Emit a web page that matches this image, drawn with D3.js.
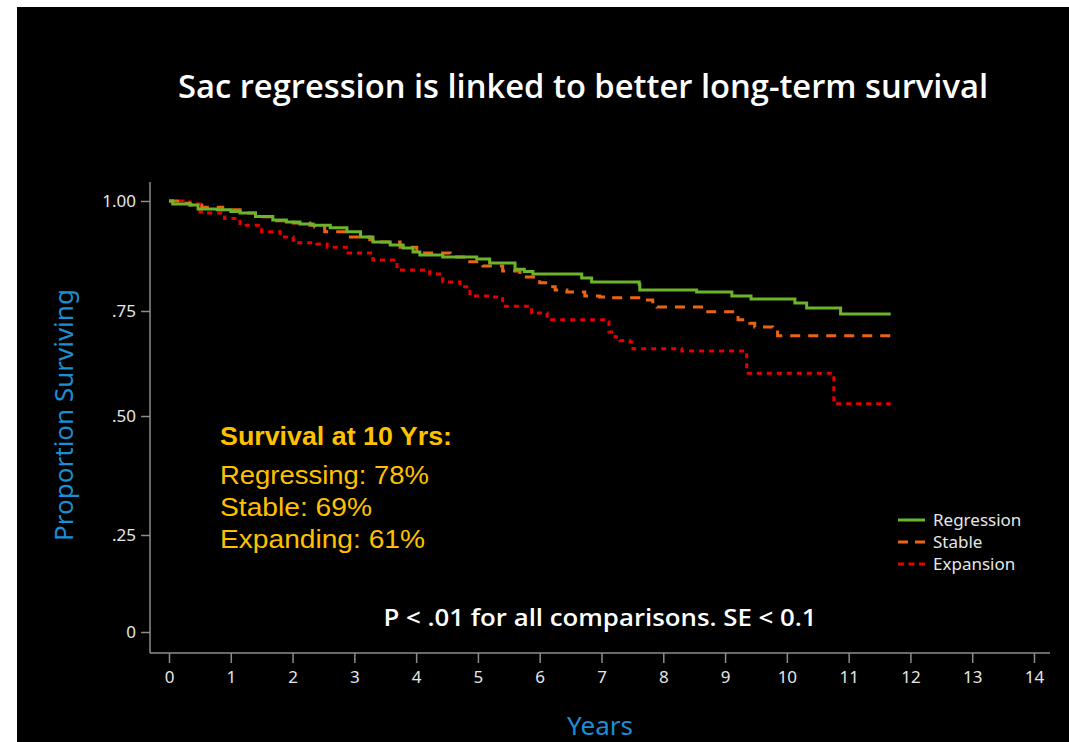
<!DOCTYPE html>
<html>
<head>
<meta charset="utf-8">
<script src="https://cdn.jsdelivr.net/npm/d3@7"></script>
<style>
  body { margin: 0; background: #fff; }
  svg { display: block; }
</style>
</head>
<body>
<div id="chart"></div>
<script>
// Kaplan-Meier steps: [years, proportion surviving]
var regression = [
    [0, 1.000], [0.06, 0.993], [0.34, 0.991], [0.47, 0.982], [0.78, 0.980],
    [1.0, 0.976], [1.15, 0.973], [1.4, 0.965], [1.68, 0.957], [1.9, 0.952],
    [2.12, 0.948], [2.33, 0.945], [2.61, 0.939], [2.88, 0.930], [3.1, 0.918],
    [3.30, 0.907], [3.58, 0.900], [3.79, 0.893], [3.95, 0.884], [4.06, 0.877],
    [4.43, 0.873], [4.98, 0.868], [5.19, 0.859], [5.60, 0.845], [5.75, 0.840],
    [5.89, 0.834], [6.68, 0.825], [6.84, 0.816], [7.61, 0.811], [7.62, 0.798],
    [8.54, 0.793], [9.11, 0.784], [9.42, 0.777], [10.13, 0.768], [10.32, 0.757],
    [10.87, 0.743], [11.68, 0.743]
];
var stable = [
    [0, 1.000], [0.23, 0.995], [0.34, 0.991], [0.53, 0.986], [0.87, 0.980],
    [1.15, 0.973], [1.4, 0.964], [1.68, 0.955], [2.01, 0.950], [2.28, 0.945],
    [2.36, 0.941], [2.52, 0.930], [2.88, 0.918], [3.25, 0.912], [3.41, 0.907],
    [3.74, 0.895], [4.01, 0.882], [4.55, 0.873], [4.8, 0.862], [5.08, 0.852],
    [5.40, 0.841], [5.68, 0.827], [5.95, 0.820], [6.0, 0.814], [6.13, 0.805],
    [6.25, 0.798], [6.44, 0.793], [6.73, 0.784], [6.97, 0.782], [7.10, 0.780],
    [7.70, 0.775], [7.83, 0.761], [7.90, 0.759], [8.71, 0.752], [8.72, 0.748],
    [9.21, 0.729], [9.40, 0.721], [9.48, 0.712], [9.77, 0.705], [9.85, 0.691],
    [11.68, 0.691]
];
var expansion = [
    [0, 1.000], [0.23, 0.998], [0.34, 0.993], [0.50, 0.975], [0.61, 0.973],
    [0.9, 0.960], [1.15, 0.945], [1.5, 0.930], [1.80, 0.918], [2.01, 0.905],
    [2.39, 0.902], [2.56, 0.895], [2.9, 0.882], [3.30, 0.866], [3.69, 0.843],
    [4.22, 0.834], [4.43, 0.816], [4.71, 0.805], [4.87, 0.784], [5.24, 0.782],
    [5.40, 0.761], [5.87, 0.745], [6.12, 0.729], [7.10, 0.724], [7.12, 0.700],
    [7.22, 0.688], [7.30, 0.679], [7.46, 0.676], [7.51, 0.660], [8.3, 0.655],
    [9.35, 0.602], [10.76, 0.529], [11.68, 0.529]
];

var seriesNames = ["Regression", "Stable", "Expansion"];
var xTicks = d3.range(0, 15);
var yTicks = [0, 0.25, 0.5, 0.75, 1];
var yTickLabels = ["0", ".25", ".50", ".75", "1.00"];
var noteLines = ["Regressing: 78%", "Stable: 69%", "Expanding: 61%"];

var svgWidth = 1069, svgHeight = 742;

var svg = d3.select("#chart")
    .append("svg")
    .attr("width", svgWidth)
    .attr("height", svgHeight);

// black slide panel
svg.append("rect")
    .attr("x", 17).attr("y", 7)
    .attr("width", svgWidth - 17).attr("height", svgHeight - 7)
    .attr("fill", "#000");

var xScale = d3.scaleLinear().domain([0, 14]).range([169, 1034]);
// tick spacing in the picture is slightly uneven, so a polylinear scale
var yScale = d3.scaleLinear()
    .domain([0, 0.25, 0.5, 0.75, 1])
    .range([632, 535, 416, 311, 201]);

var axisColor = "#8c8c8c";
var tickFont = "'Noto Sans', 'Open Sans', sans-serif";

// title
svg.append("text")
    .attr("x", 583).attr("y", 98)
    .attr("text-anchor", "middle")
    .attr("textLength", 810)
    .attr("lengthAdjust", "spacingAndGlyphs")
    .style("font-family", "'Open Sans', sans-serif")
    .style("font-weight", 600)
    .style("font-size", "32px")
    .attr("fill", "#fff")
    .text("Sac regression is linked to better long-term survival");

// axes
var leftAxis = d3.axisLeft(yScale)
    .tickValues(yTicks)
    .tickSize(9)
    .tickPadding(5)
    .tickFormat(function(d, i) { return yTickLabels[i]; });

var yAxis = svg.append("g")
    .attr("transform", "translate(150,0)")
    .call(leftAxis);

var bottomAxis = d3.axisBottom(xScale)
    .tickValues(xTicks)
    .tickSize(10)
    .tickPadding(8)
    .tickFormat(d3.format("d"));

var xAxis = svg.append("g")
    .attr("transform", "translate(0,653)")
    .call(bottomAxis);

[yAxis, xAxis].forEach(function(ax) {
    ax.select(".domain").remove();
    ax.selectAll(".tick line").attr("stroke", axisColor).attr("stroke-width", 1.5);
    ax.selectAll(".tick text")
        .attr("fill", "#e6e6e6")
        .style("font-family", tickFont)
        .style("font-size", "17px");
});

// axis lines (longer than the tick range)
svg.append("line")
    .attr("x1", 150).attr("x2", 150)
    .attr("y1", 182).attr("y2", 653)
    .attr("stroke", axisColor).attr("stroke-width", 1.5);
svg.append("line")
    .attr("x1", 150).attr("x2", 1050)
    .attr("y1", 653).attr("y2", 653)
    .attr("stroke", axisColor).attr("stroke-width", 1.5);

// axis titles
svg.append("text")
    .attr("transform", "translate(73,415) rotate(-90)")
    .attr("text-anchor", "middle")
    .style("font-family", tickFont)
    .style("font-size", "26px")
    .attr("fill", "#1a8fd6")
    .text("Proportion Surviving");

svg.append("text")
    .attr("x", 600).attr("y", 735)
    .attr("text-anchor", "middle")
    .style("font-family", tickFont)
    .style("font-size", "26px")
    .attr("fill", "#1a8fd6")
    .text("Years");

// survival curves
var line = d3.line()
    .x(function(d) { return xScale(d[0]); })
    .y(function(d) { return yScale(d[1]); })
    .curve(d3.curveStepAfter);

var styles = [
    { data: regression, color: "#6cb42c", dash: null, legendDash: null },
    { data: stable, color: "#ec6412", dash: "10,8", legendDash: "10,7" },
    { data: expansion, color: "#e80000", dash: "5,5", legendDash: "6,4.5" }
];

styles.slice().reverse().forEach(function(s) {
    svg.append("path")
        .datum(s.data)
        .attr("d", line)
        .attr("fill", "none")
        .attr("stroke", s.color)
        .attr("stroke-width", 3)
        .attr("stroke-dasharray", s.dash);
});

// legend
var legend = svg.append("g").attr("transform", "translate(898,520)");
styles.forEach(function(s, i) {
    legend.append("line")
        .attr("x1", 0).attr("x2", 27)
        .attr("y1", i * 22).attr("y2", i * 22)
        .attr("stroke", s.color)
        .attr("stroke-width", 3)
        .attr("stroke-dasharray", s.legendDash);
    legend.append("text")
        .attr("x", 35).attr("y", i * 22 + 6)
        .style("font-family", tickFont)
        .style("font-size", "17px")
        .attr("fill", "#e6e6e6")
        .text(seriesNames[i]);
});

// 10-year note
var noteFont = "'Liberation Sans', Arial, sans-serif";
svg.append("text")
    .attr("x", 220).attr("y", 445)
    .attr("textLength", 232)
    .attr("lengthAdjust", "spacingAndGlyphs")
    .style("font-family", noteFont)
    .style("font-weight", 700)
    .style("font-size", "26px")
    .attr("fill", "#ffc000")
    .text("Survival at 10 Yrs:");

var noteWidths = [209, 152, 205];
var noteY = [484, 516, 548];
noteLines.forEach(function(t, i) {
    svg.append("text")
        .attr("x", 220).attr("y", noteY[i])
        .attr("textLength", noteWidths[i])
        .attr("lengthAdjust", "spacingAndGlyphs")
        .style("font-family", noteFont)
        .style("font-size", "26px")
        .attr("fill", "#ffc000")
        .text(t);
});

svg.append("text")
    .attr("x", 600).attr("y", 626)
    .attr("text-anchor", "middle")
    .attr("textLength", 433)
    .attr("lengthAdjust", "spacingAndGlyphs")
    .style("font-family", "'Open Sans', sans-serif")
    .style("font-weight", 600)
    .style("font-size", "23px")
    .attr("fill", "#fff")
    .text("P < .01 for all comparisons. SE < 0.1");
</script>
</body>
</html>
